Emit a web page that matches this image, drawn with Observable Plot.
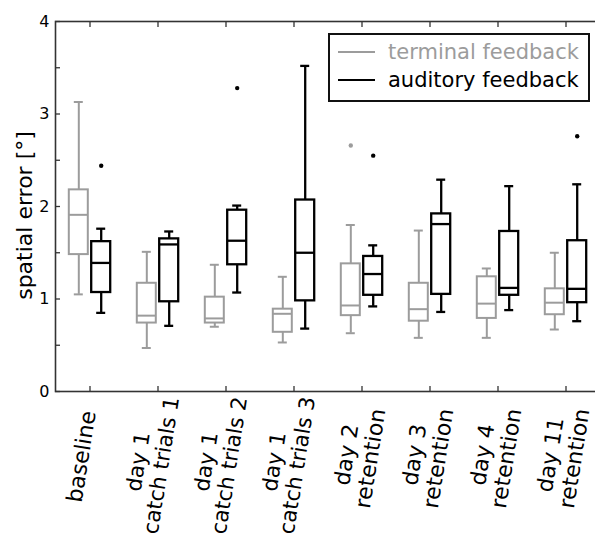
<!DOCTYPE html>
<html><head><meta charset="utf-8">
<script src="https://cdn.jsdelivr.net/npm/d3@7"></script>
<script src="https://cdn.jsdelivr.net/npm/@observablehq/plot@0.6"></script>
<style>
html,body{margin:0;padding:0;background:#fff;}
#wrap{position:relative;width:595px;height:535px;overflow:hidden;font-family:"DejaVu Sans",sans-serif;}
#wrap svg{display:block;max-width:none;}
.legend{position:absolute;left:328px;top:33px;width:258px;height:65px;border:2px solid #111;background:#fff;}
.legend .ln{position:absolute;left:8px;width:37px;height:2px;}
.legend .tx{position:absolute;left:58px;font-size:21px;line-height:24px;white-space:nowrap;}
</style></head>
<body>
<div id="wrap"></div>
<script>
const categories = ["baseline", "day 1\ncatch trials 1", "day 1\ncatch trials 2", "day 1\ncatch trials 3",
  "day 2\nretention", "day 3\nretention", "day 4\nretention", "day 11\nretention"];

// terminal feedback (gray)
const termLo  = [1.05, 0.47, 0.70, 0.53, 0.63, 0.58, 0.58, 0.67];
const termQ1  = [1.48, 0.74, 0.74, 0.64, 0.82, 0.76, 0.79, 0.83];
const termMed = [1.91, 0.82, 0.79, 0.84, 0.93, 0.89, 0.95, 0.96];
const termQ3  = [2.18, 1.17, 1.02, 0.89, 1.38, 1.17, 1.24, 1.11];
const termHi  = [3.13, 1.51, 1.37, 1.24, 1.80, 1.74, 1.33, 1.50];
const termOutCat = ["day 2\nretention"];
const termOutVal = [2.66];

// auditory feedback (black)
const audLo  = [0.85, 0.71, 1.07, 0.68, 0.92, 0.86, 0.88, 0.76];
const audQ1  = [1.07, 0.97, 1.37, 0.98, 1.04, 1.05, 1.04, 0.96];
const audMed = [1.39, 1.59, 1.63, 1.50, 1.27, 1.81, 1.12, 1.11];
const audQ3  = [1.62, 1.65, 1.96, 2.07, 1.46, 1.92, 1.73, 1.63];
const audHi  = [1.76, 1.73, 2.01, 3.52, 1.58, 2.29, 2.22, 2.24];
const audOutCat = ["baseline", "day 1\ncatch trials 2", "day 2\nretention", "day 11\nretention"];
const audOutVal = [2.44, 3.28, 2.55, 2.76];

const yTicks = [0, 1, 2, 3, 4];
const yMinorTicks = [0, 0.5, 1, 1.5, 2, 2.5, 3, 3.5, 4];

const seriesNames = ["terminal feedback", "auditory feedback"];
const GRAY = "#9c9c9c", BLACK = "#000000";

const term = categories.map((c, i) => ({cat: c, lo: termLo[i], q1: termQ1[i], med: termMed[i], q3: termQ3[i], hi: termHi[i]}));
const aud = categories.map((c, i) => ({cat: c, lo: audLo[i], q1: audQ1[i], med: audMed[i], q3: audQ3[i], hi: audHi[i]}));
const termOut = termOutCat.map((c, i) => ({cat: c, v: termOutVal[i]}));
const audOut = audOutCat.map((c, i) => ({cat: c, v: audOutVal[i]}));

function boxMarks(data, out, color, dx, sw) {
  return [
    Plot.ruleX(data, {x: "cat", y1: "lo", y2: "q1", stroke: color, strokeWidth: sw, dx}),
    Plot.ruleX(data, {x: "cat", y1: "q3", y2: "hi", stroke: color, strokeWidth: sw, dx}),
    Plot.tickY(data, {x: "cat", y: "lo", stroke: color, strokeWidth: sw, dx, insetLeft: 5, insetRight: 5}),
    Plot.tickY(data, {x: "cat", y: "hi", stroke: color, strokeWidth: sw, dx, insetLeft: 5, insetRight: 5}),
    Plot.barY(data, {x: "cat", y1: "q1", y2: "q3", fill: "white", stroke: color, strokeWidth: sw, dx}),
    Plot.tickY(data, {x: "cat", y: "med", stroke: color, strokeWidth: sw, dx}),
    Plot.dot(out, {x: "cat", y: "v", r: 2.2, fill: color, stroke: "none", dx})
  ];
}

const chart = Plot.plot({
  width: 595,
  height: 535,
  marginLeft: 55,
  marginRight: -6,
  marginTop: 21,
  marginBottom: 144,
  style: {fontFamily: "DejaVu Sans", fontSize: "16px", color: "black", background: "white", overflow: "hidden"},
  x: {type: "band", domain: categories, paddingInner: 0.72, paddingOuter: 0.36, align: 0.5},
  y: {domain: [0, 4]},
  marks: [
    ...boxMarks(term, termOut, GRAY, -11.2, 2),
    ...boxMarks(aud, audOut, BLACK, 11.2, 2.3),
    Plot.frame({stroke: "#333", strokeWidth: 1.6}),
    Plot.axisY(yMinorTicks, {tickSize: -5, tickFormat: () => "", stroke: "#333", strokeWidth: 1.3, label: null}),
    Plot.axisY(yTicks, {tickSize: 0, tickPadding: 6, fontSize: 16, tickFormat: d => String(d), fill: "black", label: null}),
    Plot.axisX({anchor: "top", tickSize: -5, tickFormat: () => "", stroke: "#333", strokeWidth: 1.3, label: null}),
    Plot.axisX({anchor: "bottom", tickSize: -5, tickFormat: () => "", stroke: "#333", strokeWidth: 1.3, label: null}),
    Plot.text(categories.slice(0, 1), {x: d => d, frameAnchor: "bottom", rotate: -81, textAnchor: "middle", lineAnchor: "middle", lineHeight: 1.1, dx: -9, dy: 65, fontSize: 22, fill: "black"}),
    Plot.text(categories.slice(1, 4), {x: d => d, frameAnchor: "bottom", rotate: -81, textAnchor: "middle", lineAnchor: "middle", lineHeight: 1.1, dx: -8.7, dy: 72, fontSize: 21.3, fill: "black"}),
    Plot.text(categories.slice(4), {x: d => d, frameAnchor: "bottom", rotate: -81, textAnchor: "middle", lineAnchor: "middle", lineHeight: 1.1, dx: -4, dy: 65, fontSize: 22, fill: "black"}),
    Plot.text(["spatial error [°]"], {frameAnchor: "left", rotate: -90, textAnchor: "middle", dx: -31, dy: 9, fontSize: 22, fill: "black"})
  ]
});

const wrap = document.getElementById("wrap");
wrap.appendChild(chart);

const legend = document.createElement("div");
legend.className = "legend";
[[seriesNames[0], GRAY, 17], [seriesNames[1], BLACK, 45]].forEach(([name, color, cy]) => {
  const ln = document.createElement("div");
  ln.className = "ln";
  ln.style.top = (cy - 1) + "px";
  ln.style.background = color;
  legend.appendChild(ln);
  const tx = document.createElement("div");
  tx.className = "tx";
  tx.style.top = (cy - 12) + "px";
  tx.style.color = color;
  tx.textContent = name;
  legend.appendChild(tx);
});
wrap.appendChild(legend);
</script>
</body></html>
